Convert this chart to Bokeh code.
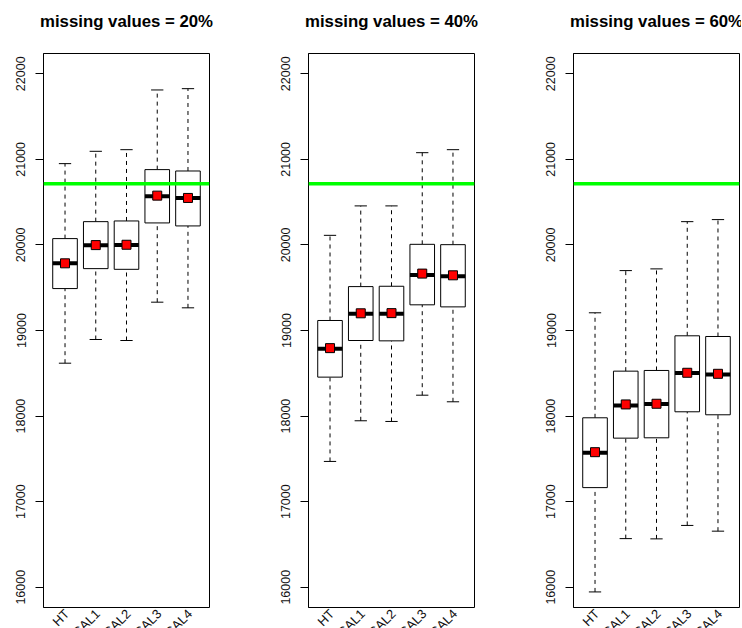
import math
from bokeh.plotting import figure
from bokeh.layouts import row, column
from bokeh.models import FixedTicker, Range1d, ColumnDataSource, Span
from bokeh.core.properties import value
from bokeh.embed import file_html
from bokeh.resources import INLINE

methods = ["HT", "CAL1", "CAL2", "CAL3", "CAL4"]
positions = [1, 2, 3, 4, 5]
titles = ["missing values = 20%", "missing values = 40%", "missing values = 60%"]
true_total = 20716
y_ticks = [16000, 17000, 18000, 19000, 20000, 21000, 22000]
y_lo, y_hi = 15763, 22237
x_lo, x_hi = 0.3, 5.7

# missing values = 20%
lower_20 = [18618, 18895, 18883, 19331, 19265]
q1_20 = [19490, 19723, 19715, 20257, 20222]
median_20 = [19785, 19996, 20000, 20568, 20549]
q3_20 = [20074, 20272, 20280, 20880, 20864]
upper_20 = [20950, 21094, 21113, 21811, 21826]
mean_20 = [19785, 19998, 20002, 20576, 20549]

# missing values = 40%
lower_40 = [17470, 17945, 17937, 18244, 18167]
q1_40 = [18455, 18883, 18879, 19300, 19276]
median_40 = [18786, 19195, 19195, 19650, 19633]
q3_40 = [19117, 19513, 19517, 20007, 20003]
upper_40 = [20112, 20456, 20456, 21078, 21113]
mean_40 = [18794, 19201, 19203, 19665, 19645]

# missing values = 60%
lower_60 = [15945, 16568, 16565, 16722, 16655]
q1_60 = [17164, 17742, 17746, 18050, 18015]
median_60 = [17571, 18124, 18140, 18502, 18486]
q3_60 = [17980, 18525, 18533, 18938, 18930]
upper_60 = [19207, 19700, 19720, 20272, 20296]
mean_60 = [17578, 18136, 18144, 18506, 18494]

panels = [
    (lower_20, q1_20, median_20, q3_20, upper_20, mean_20),
    (lower_40, q1_40, median_40, q3_40, upper_40, mean_40),
    (lower_60, q1_60, median_60, q3_60, upper_60, mean_60),
]

FONT = "Liberation Sans"
BOX_HALF = 0.4
CAP_HALF = 0.2
LEFT = 43          # left border (y axis area)
TITLE_H = 52       # strip holding the panel title
MAIN_H = 556       # plotting panel (frame 554 px + 1 px borders)
LABEL_H = 20       # strip holding the rotated category labels


def strip(width, height, xr, yr, bl, br, bt=0):
    f = figure(width=width, height=height, x_range=xr, y_range=yr,
               output_backend="svg", toolbar_location=None,
               min_border_left=bl, min_border_right=br,
               min_border_top=bt, min_border_bottom=0,
               x_axis_location=None, y_axis_location=None)
    f.xgrid.visible = False
    f.ygrid.visible = False
    f.outline_line_color = None
    f.background_fill_color = "white"
    f.border_fill_color = "white"
    return f


def make_panel(idx, width, border_right):
    lower, q1, med, q3, upper, mean = panels[idx]
    xr = Range1d(x_lo, x_hi)

    # title strip (title is centred over the plotting frame)
    t = strip(width, TITLE_H, xr, Range1d(0, 1), LEFT, border_right, bt=30)
    t.title.text = titles[idx]
    t.title.align = "center"
    t.title.text_font = FONT
    t.title.text_font_size = "16.8px"
    t.title.text_font_style = "bold"
    t.title.text_color = "black"
    t.title.standoff = 0

    p = figure(width=width, height=MAIN_H, x_range=xr,
               y_range=Range1d(y_lo, y_hi), output_backend="svg",
               toolbar_location=None, min_border_left=LEFT,
               min_border_right=border_right, min_border_top=1,
               min_border_bottom=1)
    p.xgrid.visible = False
    p.ygrid.visible = False
    p.xaxis.visible = False
    p.background_fill_color = "white"
    p.border_fill_color = "white"
    p.outline_line_color = "black"
    p.outline_line_width = 1
    p.outline_line_alpha = 1

    ya = p.yaxis[0]
    ya.ticker = FixedTicker(ticks=y_ticks)
    ya.major_label_orientation = "vertical"
    ya.major_tick_out = 8
    ya.major_tick_in = 0
    ya.minor_tick_out = 0
    ya.minor_tick_in = 0
    ya.axis_line_color = "black"
    ya.major_tick_line_color = "black"
    ya.major_label_text_font = FONT
    ya.major_label_text_font_size = "12.5px"
    ya.major_label_text_color = "#111111"
    ya.major_label_standoff = 10

    src = ColumnDataSource(dict(
        x=positions,
        x0=[x - BOX_HALF for x in positions],
        x1=[x + BOX_HALF for x in positions],
        c0=[x - CAP_HALF for x in positions],
        c1=[x + CAP_HALF for x in positions],
        lower=lower, q1=q1, med=med, q3=q3, upper=upper, mean=mean,
    ))

    p.segment(x0="x", x1="x", y0="q3", y1="upper", source=src,
              line_color="black", line_width=1, line_dash="4 4")
    p.segment(x0="x", x1="x", y0="lower", y1="q1", source=src,
              line_color="black", line_width=1, line_dash="4 4")
    p.segment(x0="c0", x1="c1", y0="upper", y1="upper", source=src,
              line_color="black", line_width=1)
    p.segment(x0="c0", x1="c1", y0="lower", y1="lower", source=src,
              line_color="black", line_width=1)
    p.quad(left="x0", right="x1", bottom="q1", top="q3", source=src,
           fill_color="white", line_color="black", line_width=1)
    p.segment(x0="x0", x1="x1", y0="med", y1="med", source=src,
              line_color="black", line_width=4)
    p.scatter(x="x", y="mean", source=src, marker="square", size=9,
              fill_color="red", line_color="black", line_width=1)

    p.add_layout(Span(location=true_total, dimension="width",
                      line_color="#00ff00", line_width=3.5))

    # strip below the panel holding the rotated category labels
    lab = strip(width, LABEL_H, xr, Range1d(0, 1), LEFT, border_right)
    lsrc = ColumnDataSource(dict(x=positions, y=[1] * len(positions), name=methods))
    lab.text(x="x", y="y", text="name", source=lsrc, angle=math.pi / 4,
             text_align="right", text_baseline="middle", x_offset=2,
             y_offset=3, text_font=value(FONT), text_font_size="13px",
             text_color="#111111")
    return column(t, p, lab)


c1 = make_panel(0, 265, 56)
c2 = make_panel(1, 265, 56)
c3 = make_panel(2, 211, 2)

layout = row(c1, c2, c3)
open("out.html", "w").write(file_html(layout, INLINE))
